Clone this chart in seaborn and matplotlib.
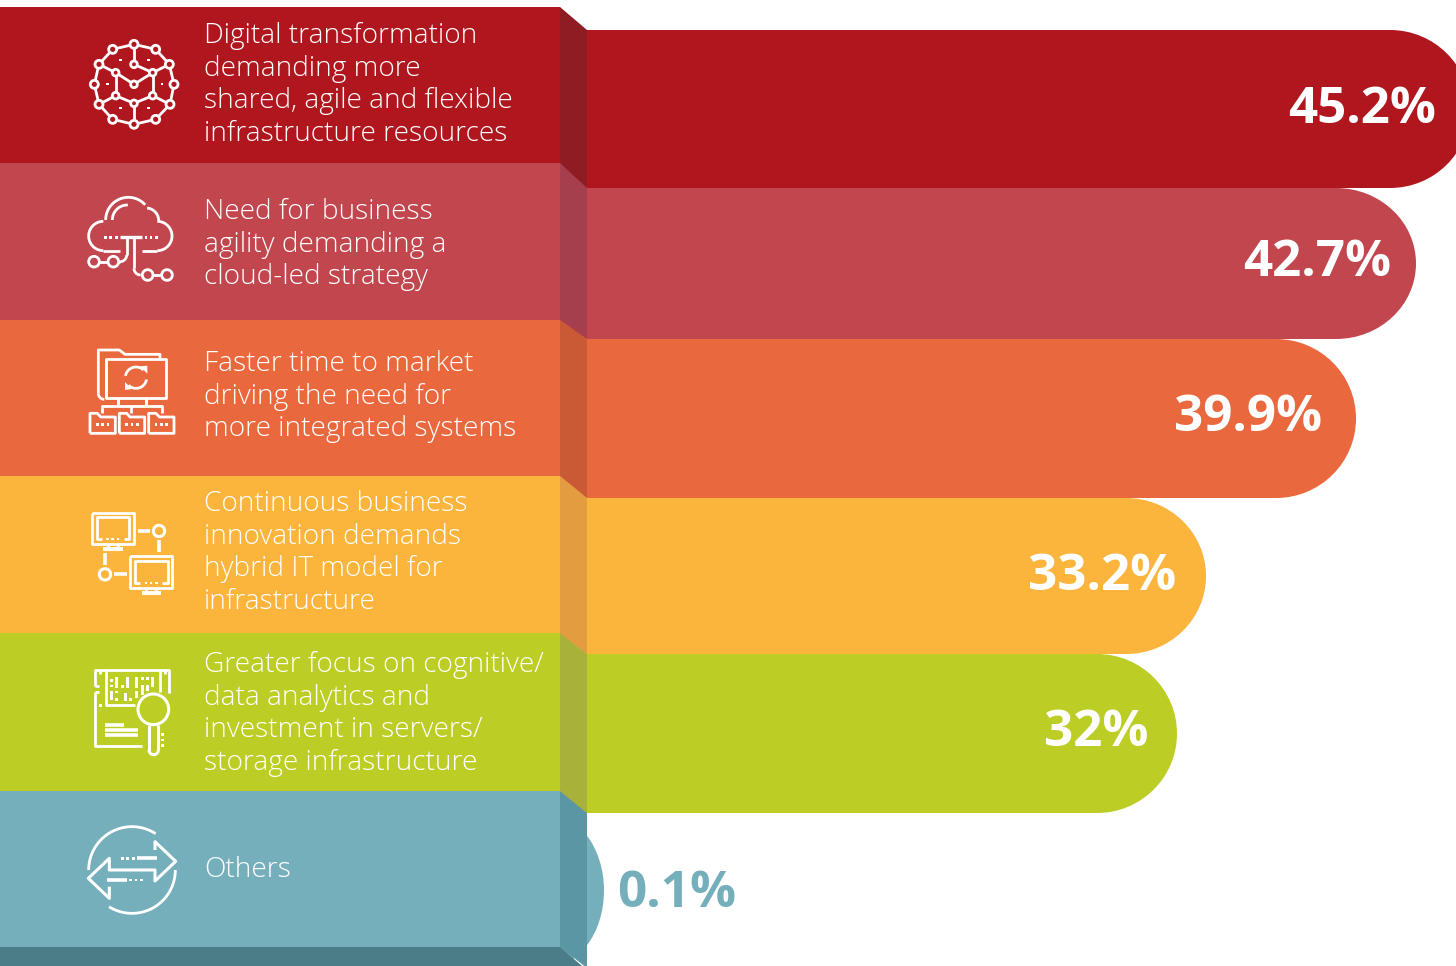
import matplotlib
matplotlib.use("Agg")
import matplotlib.pyplot as plt
import numpy as np
import pandas as pd
import seaborn as sns
from matplotlib.path import Path
from matplotlib.patches import PathPatch, Polygon, Rectangle, Circle

drivers = [
    "Digital transformation\ndemanding more\nshared, agile and flexible\ninfrastructure resources",
    "Need for business\nagility demanding a\ncloud-led strategy",
    "Faster time to market\ndriving the need for\nmore integrated systems",
    "Continuous business\ninnovation demands\nhybrid IT model for\ninfrastructure",
    "Greater focus on cognitive/\ndata analytics and\ninvestment in servers/\nstorage infrastructure",
    "Others",
]
shares = [45.2, 42.7, 39.9, 33.2, 32, 0.1]
share_labels = ["45.2%", "42.7%", "39.9%", "33.2%", "32%", "0.1%"]

colors = ["#B0161E", "#C2464E", "#E9683E", "#FBB43C", "#BCCD26", "#75AFBC"]
fold_colors = ["#8F1B23", "#A53E4D", "#C95A35", "#E39C40", "#A8B23A", "#5A96A3"]

# layout, in pixels of the 1456x966 picture
row_edges = [7, 163, 320, 476, 633, 791, 947]
bar_edges = [30, 188, 339, 498, 654, 813, 968]
bar_radius = [80, 80, 80, 80, 80, 58]
first_baseline = [43, 219, 371, 511, 672, 877]
label_baseline = [123, 276, 431, 590, 746, 907]
label_gap = [34, 25, 34, 30, 28, -13]

# the original bars are not drawn to a proportional scale
scale_values = [0, 0.1, 32, 33.2, 39.9, 42.7, 45.2]
scale_pixels = [0, 17, 590, 619, 769, 829, 883]


def forward(x):
    return np.interp(x, scale_values, scale_pixels)


def inverse(x):
    return np.interp(x, scale_pixels, scale_values)


fig = plt.figure(figsize=(14.56, 9.66), dpi=100)
ax = fig.add_axes([587 / 1456, 0, 883 / 1456, 1])
over = fig.add_axes([0, 0, 1, 1], zorder=2)
over.patch.set_alpha(0)
over.set_xlim(0, 1456)
over.set_ylim(966, 0)
over.axis("off")

df = pd.DataFrame({"driver": drivers, "share": shares})
sns.barplot(data=df, y="driver", x="share", hue="driver", palette=colors,
            orient="h", width=1, saturation=1, legend=False, ax=ax)
ax.set_xscale("function", functions=(forward, inverse))
ax.set_xlim(0, 45.2)
ax.axis("off")
fig.canvas.draw()


def rounded_bar(x1, y0, y1, rx, color):
    k = 0.5523
    ym = (y0 + y1) / 2
    ry = (y1 - y0) / 2
    xc = x1 - rx
    verts = [(450, y0), (xc, y0),
             (xc + k * rx, y0), (x1, ym - k * ry), (x1, ym),
             (x1, ym + k * ry), (xc + k * rx, y1), (xc, y1),
             (450, y1), (450, y0)]
    codes = [Path.MOVETO, Path.LINETO, Path.CURVE4, Path.CURVE4, Path.CURVE4,
             Path.CURVE4, Path.CURVE4, Path.CURVE4, Path.LINETO, Path.CLOSEPOLY]
    over.add_patch(PathPatch(Path(verts, codes), fc=color, ec="none", zorder=1))


# swap each seaborn bar for the same bar with a rounded end
ends = []
for i, bar in enumerate(ax.patches):
    val = bar.get_x() + bar.get_width()
    x1 = ax.transData.transform((val, 0))[0]
    ends.append(x1)
    rounded_bar(x1, bar_edges[i], bar_edges[i + 1], bar_radius[i], bar.get_facecolor())
    bar.set_visible(False)

# left panel and the fold next to it
for i in range(6):
    over.add_patch(Rectangle((0, row_edges[i]), 560, row_edges[i + 1] - row_edges[i],
                             fc=colors[i], ec="none", zorder=2))
    over.add_patch(Polygon([(560, row_edges[i]), (587, bar_edges[i]),
                            (587, bar_edges[i + 1]), (560, row_edges[i + 1])],
                           fc=fold_colors[i], ec="none", zorder=2))
over.add_patch(Rectangle((0, 947), 560, 20, fc="#4A7D88", ec="none", zorder=3))
over.add_patch(Polygon([(560, 947), (582, 966), (560, 966)], fc="#4A7D88", ec="none", zorder=3))

for i, text in enumerate(drivers):
    for j, line_text in enumerate(text.split("\n")):
        over.text(204, first_baseline[i] + j * 32.7, line_text, color="white", fontsize=20.2,
                  family="Open Sans", weight="light", va="baseline", ha="left", zorder=5)

for i, lab in enumerate(share_labels):
    c = "white" if i < 5 else colors[5]
    over.text(ends[i] - label_gap[i], label_baseline[i], lab, color=c, fontsize=36.8,
              family="Open Sans", weight="bold", va="baseline",
              ha="right" if i < 5 else "left", zorder=5)


LW = 2.0


def pt(org, p):
    return org[0] + p[0] / 3, org[1] + p[1] / 3


def line(org, pts, lw=LW):
    xy = [pt(org, p) for p in pts]
    over.plot([a[0] for a in xy], [a[1] for a in xy], color="white", lw=lw,
              solid_capstyle="butt", solid_joinstyle="round", zorder=6)


def ring(org, c, r, bg, lw=LW):
    x, y = pt(org, c)
    over.add_patch(Circle((x, y), r / 3, fc=bg, ec="white", lw=lw, zorder=7))


def arc(org, c, r, a0, a1, lw=LW):
    t = np.radians(np.linspace(a0, a1, 60))
    line(org, list(zip(c[0] + r * np.cos(t), c[1] + r * np.sin(t))), lw)


def dots(org, pts, s=7):
    for p in pts:
        x, y = pt(org, p)
        over.add_patch(Rectangle((x - s / 6, y - s / 6), s / 3, s / 3, fc="white", ec="none", zorder=6))


# network
o = (70, 20)
outer = [(192, 73), (257, 88), (298, 133), (312, 193), (300, 253), (257, 298),
         (192, 313), (128, 298), (87, 253), (73, 193), (87, 133), (128, 88)]
inner = [(192, 133), (248, 158), (192, 193), (137, 158), (137, 227), (248, 227), (192, 250)]
line(o, outer + outer[:1])
for a, b in [((192, 73), (192, 133)), ((192, 133), (248, 158)), ((248, 158), (298, 133)),
             ((137, 158), (87, 133)), ((137, 158), (192, 193)), ((192, 193), (248, 158)),
             ((137, 158), (137, 227)), ((248, 158), (248, 227)), ((137, 227), (87, 253)),
             ((248, 227), (300, 253)), ((137, 227), (192, 250)), ((248, 227), (192, 250)),
             ((192, 250), (192, 313))]:
    line(o, [a, b])
for p in outer:
    ring(o, p, 12, colors[0])
for p in inner:
    ring(o, p, 10, colors[0])
dots(o, [(152, 121), (235, 121), (112, 193), (275, 193), (152, 265), (235, 265)])

# cloud
arc(o, (100, 648), 44, 90, 270)
arc(o, (175, 600), 68, 180, 318)
arc(o, (228, 602), 38, 275, 358)
arc(o, (262, 648), 44, -90, 90)
line(o, [(100, 692), (150, 692)])
line(o, [(262, 692), (215, 692)])
arc(o, (172, 600), 45, 180, 272)
dots(o, [(107, 652), (122, 652), (139, 652), (228, 652), (243, 652), (259, 652)], 8)
line(o, [(150, 652), (215, 652)], 2.4)
line(o, [(170, 652), (170, 705)])
arc(o, (150, 705), 20, 0, 90)
line(o, [(72, 725), (150, 725)])
line(o, [(192, 652), (192, 745)])
arc(o, (212, 745), 20, 90, 180)
line(o, [(212, 765), (291, 765)])
for p in [(72, 725), (130, 725), (233, 765), (291, 765)]:
    ring(o, p, 16, colors[1])

# folders
o = (70, 335)
line(o, [(270, 70), (270, 58), (165, 58), (148, 45), (85, 45), (85, 175)])
arc(o, (103, 175), 18, 90, 180)
line(o, [(108, 190), (108, 72), (287, 72), (287, 190), (108, 190), (108, 72)])
arc(o, (198, 128), 32, 190, 315)
arc(o, (198, 128), 32, 10, 135)
over.add_patch(Polygon([pt(o, (210, 94)), pt(o, (232, 92)), pt(o, (232, 116))], fc="white", zorder=6))
over.add_patch(Polygon([pt(o, (186, 162)), pt(o, (165, 165)), pt(o, (165, 141))], fc="white", zorder=6))
line(o, [(143, 190), (143, 210)], 2.2)
line(o, [(229, 190), (229, 210)], 2.2)
line(o, [(95, 235), (95, 212), (275, 212), (275, 235)])
line(o, [(184, 212), (184, 235)])
for x0 in [60, 148, 236]:
    line(o, [(x0, 295), (x0, 235), (x0 + 22, 235), (x0 + 32, 246), (x0 + 76, 246),
             (x0 + 76, 295), (x0, 295)])
    dots(o, [(x0 + 22, 268), (x0 + 38, 268), (x0 + 54, 268)], 8)

# monitors
for x0, y0 in [(66, 533), (181, 664)]:
    line(o, [(x0, y0), (x0 + 125, y0), (x0 + 125, y0 + 95), (x0, y0 + 95), (x0, y0)])
    line(o, [(x0 + 30, y0 + 79), (x0 + 14, y0 + 79), (x0 + 14, y0 + 14), (x0 + 112, y0 + 14),
             (x0 + 112, y0 + 79), (x0 + 96, y0 + 79)])
    dots(o, [(x0 + 46, y0 + 79), (x0 + 62, y0 + 79), (x0 + 78, y0 + 79)], 7)
    line(o, [(x0 + 48, y0 + 95), (x0 + 48, y0 + 110)])
    line(o, [(x0 + 78, y0 + 95), (x0 + 78, y0 + 110)])
    line(o, [(x0 + 34, y0 + 110), (x0 + 92, y0 + 110)], 2.8)
line(o, [(203, 588), (240, 588)], 2.6)
line(o, [(268, 615), (268, 652)], 2.6)
line(o, [(106, 655), (106, 690)], 2.6)
line(o, [(133, 718), (170, 718)], 2.6)
ring(o, (267, 588), 17, colors[3], 2.2)
ring(o, (105, 718), 17, colors[3], 2.2)

# document and magnifier
o = (70, 650)
line(o, [(75, 108), (75, 60), (297, 60), (297, 128)])
line(o, [(75, 108), (88, 108)])
line(o, [(75, 125), (88, 125)])
line(o, [(75, 125), (75, 288), (217, 288)])
line(o, [(90, 60), (90, 72)])
line(o, [(285, 60), (285, 72)])
line(o, [(107, 60), (107, 165), (195, 165)])
line(o, [(270, 60), (270, 125)])
for x, y, w, h in [(120, 88, 9, 8), (120, 104, 9, 8), (136, 82, 9, 32), (152, 104, 9, 10),
                   (168, 82, 9, 32), (196, 82, 9, 32), (212, 82, 9, 8), (212, 104, 9, 10),
                   (228, 82, 9, 8), (244, 82, 9, 30), (228, 104, 9, 18), (120, 122, 9, 28),
                   (136, 122, 9, 8), (136, 144, 9, 8), (162, 128, 9, 24), (178, 144, 9, 8),
                   (196, 122, 9, 22), (212, 112, 9, 22)]:
    a = pt(o, (x, y))
    over.add_patch(Rectangle(a, w / 3, h / 3, fc="white", ec="none", zorder=6))
dots(o, [(92, 165)], 9)
line(o, [(105, 224), (162, 224)], 2.6)
line(o, [(105, 240), (205, 240)], 2.6)
line(o, [(105, 254), (205, 254)], 2.6)
ring(o, (250, 178), 46, colors[4], 2.2)
arc(o, (250, 178), 32, 180, 270)
line(o, [(237, 225), (237, 300)], 2.2)
arc(o, (251, 300), 14, 0, 180, 2.2)
line(o, [(265, 225), (265, 300)], 2.2)
dots(o, [(277, 254), (277, 270), (277, 286)], 8)

# arrows
arc(o, (186, 660), 130, 180, 303)
arc(o, (186, 660), 130, 0, 122)
line(o, [(118, 710), (118, 745), (55, 685), (118, 625), (118, 660), (255, 660),
         (255, 693), (317, 634), (255, 575), (255, 600)], 2.2)
line(o, [(202, 625), (260, 625)], 2.6)
dots(o, [(158, 625), (172, 625), (190, 625)], 8)
line(o, [(112, 690), (170, 690)], 2.6)
dots(o, [(182, 690), (198, 690), (214, 690)], 8)

over.set_xlim(0, 1456)
over.set_ylim(966, 0)
fig.savefig("out.png", dpi=100)
